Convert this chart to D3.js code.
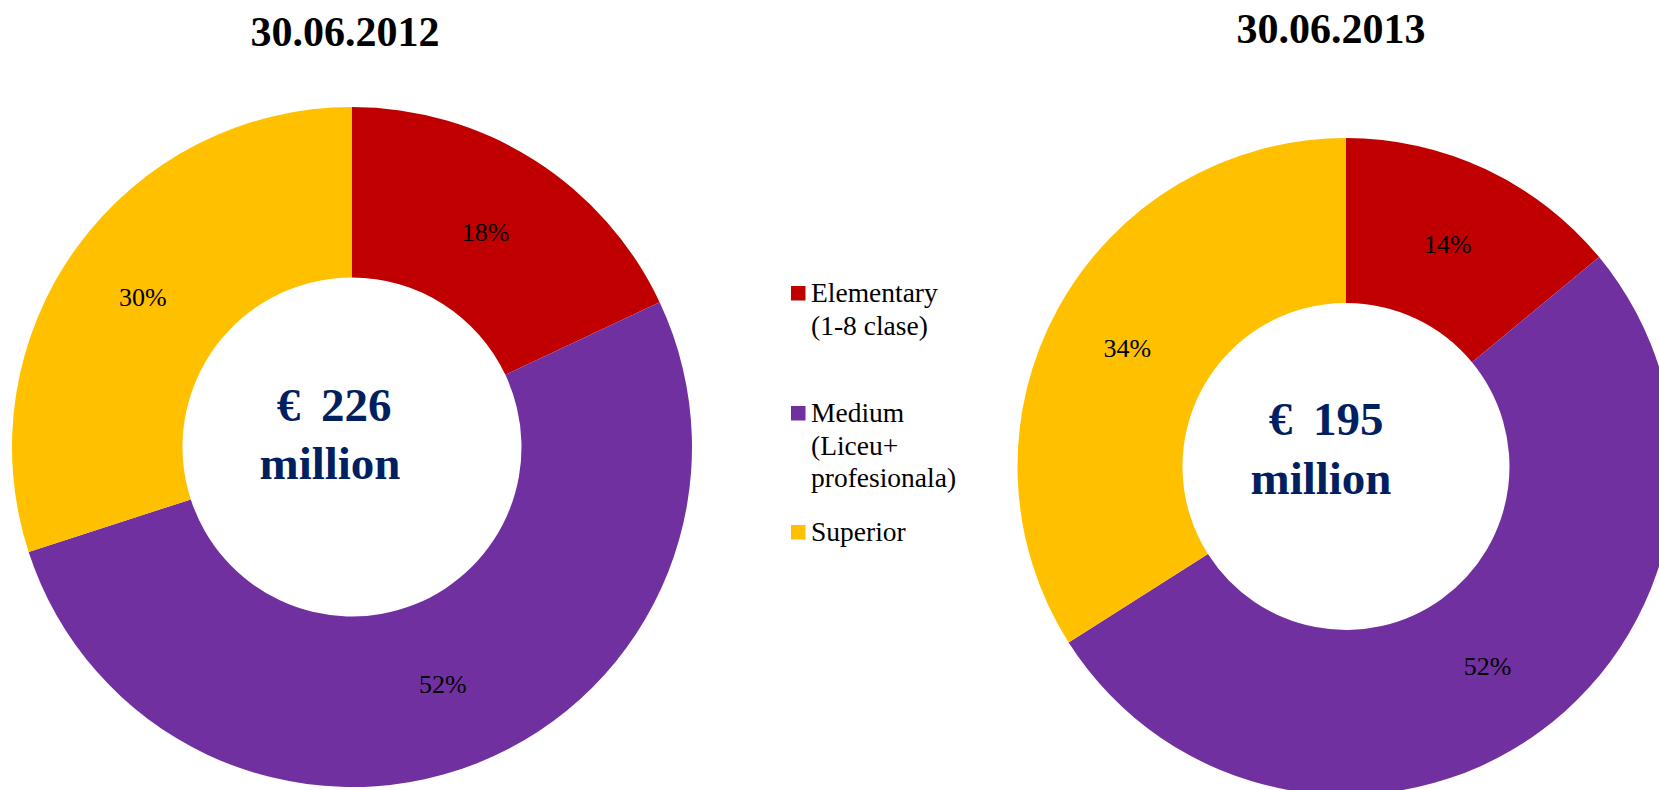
<!DOCTYPE html>
<html>
<head>
<meta charset="utf-8">
<script src="https://cdn.jsdelivr.net/npm/d3@7"></script>
<style>
  html, body { margin: 0; padding: 0; background: #fff; }
  svg { display: block; }
</style>
</head>
<body>
<svg id="chart" width="1659" height="790"></svg>
<script>
const categories = ["Elementary (1-8 clase)", "Medium (Liceu+ profesionala)", "Superior"];
const legendLines = [["Elementary", "(1-8 clase)"], ["Medium", "(Liceu+", "profesionala)"], ["Superior"]];
const colors = ["#C00000", "#7030A0", "#FFC000"];
const titles = ["30.06.2012", "30.06.2013"];
const currency = "€";
const totals = ["226", "195"];
const totalUnit = "million";
const values2012 = [18, 52, 30];
const values2013 = [14, 52, 34];

const svg = d3.select("#chart");
const serif = "'Liberation Serif', 'Times New Roman', serif";

const charts = [
  { values: values2012, title: titles[0], total: totals[0], cx: 352, cy: 447, R: 340, r: 169.5, tx: 345, ty: 46, c1x: 334, c1y: 421, c2x: 330, c2y: 479 },
  { values: values2013, title: titles[1], total: totals[1], cx: 1346, cy: 466.5, R: 328.5, r: 163.5, tx: 1331, ty: 43, c1x: 1326, c1y: 435, c2x: 1321, c2y: 494 }
];

const pie = d3.pie().sort(null).value(d => d).startAngle(0).endAngle(2 * Math.PI);

charts.forEach(c => {
  const arc = d3.arc().innerRadius(c.r).outerRadius(c.R);
  const g = svg.append("g").attr("transform", `translate(${c.cx},${c.cy})`);
  const arcs = pie(c.values);
  g.selectAll("path").data(arcs).enter().append("path")
    .attr("d", arc)
    .attr("fill", (d, i) => colors[i]);
  g.selectAll("text.lbl").data(arcs).enter().append("text")
    .attr("class", "lbl")
    .attr("transform", d => { const p = arc.centroid(d); return `translate(${p[0] - 3},${p[1]})`; })
    .attr("dy", "0.35em")
    .attr("text-anchor", "middle")
    .attr("font-family", serif)
    .attr("font-size", 26)
    .attr("fill", "#000")
    .text(d => d.data + "%");

  svg.append("text")
    .attr("x", c.tx).attr("y", c.ty)
    .attr("text-anchor", "middle")
    .attr("font-family", serif)
    .attr("font-weight", "bold")
    .attr("font-size", 42)
    .attr("fill", "#000")
    .text(c.title);

  const t1 = svg.append("text")
    .attr("x", c.c1x).attr("y", c.c1y)
    .attr("text-anchor", "middle")
    .attr("font-family", serif)
    .attr("font-weight", "bold")
    .attr("font-size", 47)
    .attr("fill", "#002060");
  t1.append("tspan").text(currency + " ");
  t1.append("tspan").attr("dx", 9).text(c.total);

  svg.append("text")
    .attr("x", c.c2x).attr("y", c.c2y)
    .attr("text-anchor", "middle")
    .attr("font-family", serif)
    .attr("font-weight", "bold")
    .attr("font-size", 47)
    .attr("fill", "#002060")
    .text(totalUnit);
});

// Legend
const legendY = [302, 422, 541];
const lg = svg.append("g");
legendLines.forEach((lines, i) => {
  lg.append("rect")
    .attr("x", 791).attr("y", legendY[i] - 16)
    .attr("width", 14.5).attr("height", 14.5)
    .attr("fill", colors[i]);
  const t = lg.append("text")
    .attr("font-family", serif)
    .attr("font-size", 27.5)
    .attr("fill", "#000");
  lines.forEach((ln, j) => {
    t.append("tspan").attr("x", 811).attr("y", legendY[i] + j * 32.5).text(ln);
  });
});
</script>
</body>
</html>
